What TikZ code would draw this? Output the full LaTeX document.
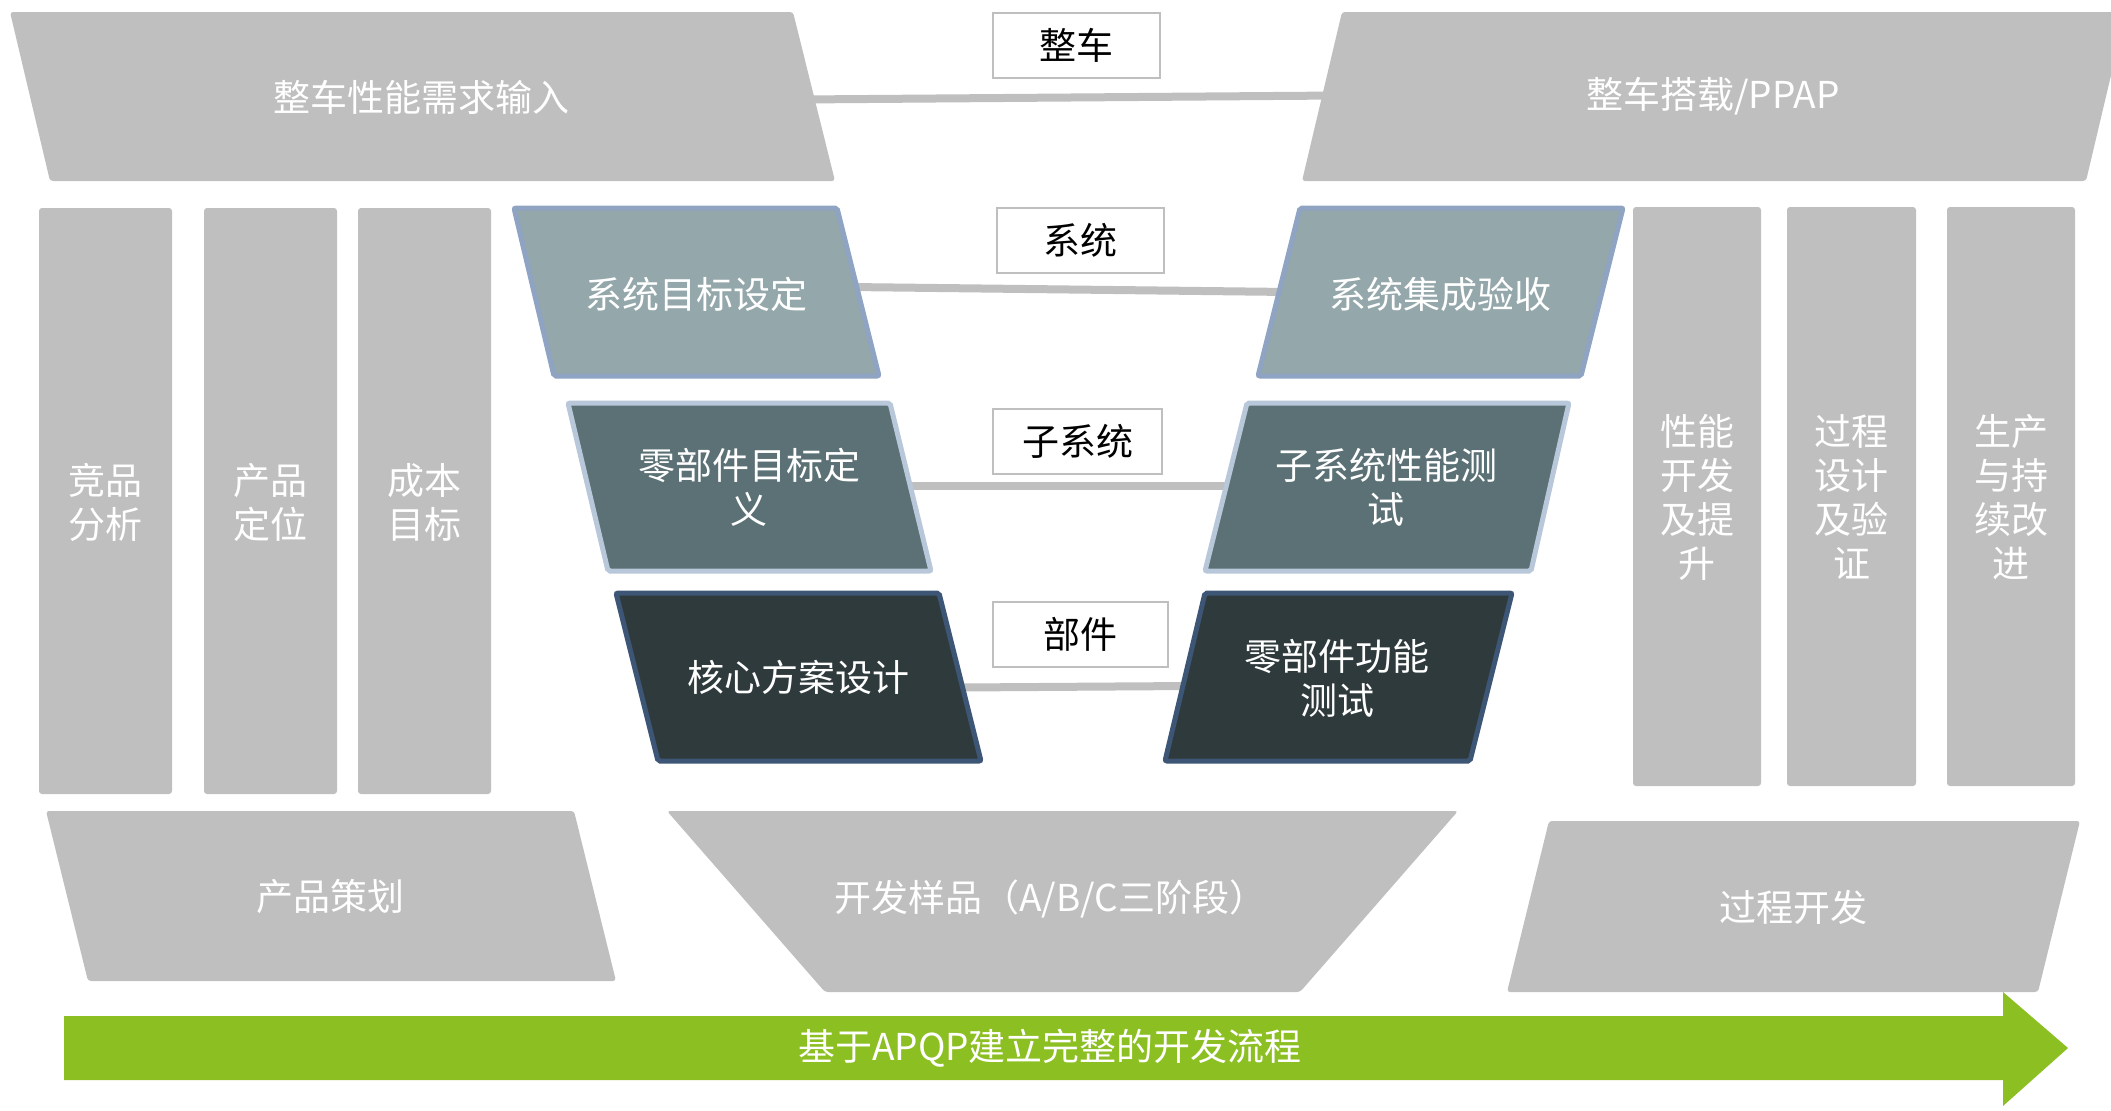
\documentclass[tikz,border=0pt]{standalone}
\usepackage{fontspec}
\setmainfont{Noto Sans CJK SC}
\newfontfamily\cjk{Noto Sans CJK SC}
\definecolor{cgray}{HTML}{BFBFBF}
\definecolor{sysfill}{HTML}{94A7AA}
\definecolor{sysdraw}{HTML}{8FA3C2}
\definecolor{subfill}{HTML}{5B7175}
\definecolor{subdraw}{HTML}{B8C7D9}
\definecolor{corefill}{HTML}{2F3A3C}
\definecolor{coredraw}{HTML}{3E5675}
\definecolor{cgreen}{HTML}{8CBF22}
\begin{document}
\begin{tikzpicture}[x=0.5pt,y=-0.5pt,
  txtfont/.style={font=\cjk\fontsize{18.5pt}{22pt}\selectfont},
  lbl/.style={txtfont,text=white,align=center,inner sep=0pt},
  greyshape/.style={fill=cgray,rounded corners=1.5pt},
  sysshape/.style={fill=sysfill,draw=sysdraw,line width=2.5pt,rounded corners=1pt},
  subshape/.style={fill=subfill,draw=subdraw,line width=2.5pt,rounded corners=1pt},
  coreshape/.style={fill=corefill,draw=coredraw,line width=2.5pt,rounded corners=1pt},
  link/.style={draw=cgray,line width=4pt},
  tagbox/.style={txtfont,text=black,draw=cgray,line width=1pt,fill=white,inner sep=0pt}]
\useasboundingbox (0,0) rectangle (2111,1110);
\clip (0,0) rectangle (2111,1110);

% connector end points (inside the shapes, drawn beneath them)
\coordinate (a1) at (800,99.5);  \coordinate (a2) at (1340,95.5);
\coordinate (b1) at (850,287);   \coordinate (b2) at (1290,292);
\coordinate (c1) at (900,486);   \coordinate (c2) at (1230,486);
\coordinate (d1) at (960,687.5); \coordinate (d2) at (1190,686);
\draw[link] (a1) -- (a2);
\draw[link] (b1) -- (b2);
\draw[link] (c1) -- (c2);
\draw[link] (d1) -- (d2);

% top parallelograms
\fill[greyshape] (10,12) -- (793,12) -- (835,181) -- (50,181) -- cycle;
\node[lbl] (vin) at (421,97) {整车性能需求输入};
\fill[greyshape] (1342,12) -- (2126,12) -- (2086,181) -- (1302,181) -- cycle;
\node[lbl] (vout) at (1713,96) {整车搭载/PPAP};

% level tags
\node[tagbox,minimum width=83.5pt,minimum height=32.5pt] (t1) at (1076.5,45.5) {整车};
\node[tagbox,minimum width=83.5pt,minimum height=32.5pt] (t2) at (1080.5,240.5) {系统};
\node[tagbox,minimum width=84.5pt,minimum height=32.5pt] (t3) at (1077.5,441.5) {子系统};
\node[tagbox,minimum width=87.5pt,minimum height=32.5pt] (t4) at (1080.5,634.5) {部件};

% left columns
\fill[greyshape] (39,208) rectangle (172,794);
\fill[greyshape] (204,208) rectangle (337,794);
\fill[greyshape] (358,208) rectangle (491,794);
\node[lbl] (lc1) at (105.5,502) {竞品\\分析};
\node[lbl] (lc2) at (270.5,502) {产品\\定位};
\node[lbl] (lc3) at (424.5,502) {成本\\目标};

% right columns
\fill[greyshape] (1633,207) rectangle (1761,786);
\fill[greyshape] (1787,207) rectangle (1916,786);
\fill[greyshape] (1947,207) rectangle (2075,786);
\node[lbl] (rc1) at (1697,497) {性能\\开发\\及提\\升};
\node[lbl] (rc2) at (1851.5,497) {过程\\设计\\及验\\证};
\node[lbl] (rc3) at (2011,497) {生产\\与持\\续改\\进};

% system level
\filldraw[sysshape] (514,208) -- (837,208) -- (879,376) -- (554,376) -- cycle;
\node[lbl] (sysL) at (696,294) {系统目标设定};
\filldraw[sysshape] (1300,208) -- (1623,208) -- (1581,376) -- (1258,376) -- cycle;
\node[lbl] (sysR) at (1440,294) {系统集成验收};

% subsystem level
\filldraw[subshape] (568,403) -- (890,403) -- (931,571) -- (608,571) -- cycle;
\node[lbl] (subL) at (749,487) {零部件目标定\\义};
\filldraw[subshape] (1247,403) -- (1569,403) -- (1531,571) -- (1205,571) -- cycle;
\node[lbl] (subR) at (1386,487) {子系统性能测\\试};

% part level
\filldraw[coreshape] (616,593) -- (939,593) -- (981,761) -- (658,761) -- cycle;
\node[lbl] (coreL) at (798,677) {核心方案设计};
\filldraw[coreshape] (1205,593) -- (1512,593) -- (1470,761) -- (1165,761) -- cycle;
\node[lbl] (coreR) at (1337,678) {零部件功能\\测试};

% bottom shapes
\fill[greyshape] (46,811) -- (574,811) -- (616,981) -- (88,981) -- cycle;
\node[lbl] (plan) at (330,896) {产品策划};
\fill[greyshape] (667,811) -- (1458,811) -- (1300,992) -- (825,992) -- cycle;
\node[lbl] (proto) at (1050,899) {开发样品（A/B/C三阶段）};
\fill[greyshape] (1549,821) -- (2080,821) -- (2038,992) -- (1507,992) -- cycle;
\node[lbl] (proc) at (1793,907) {过程开发};

% green arrow
\fill[cgreen] (64,1016) -- (2003,1016) -- (2003,992) -- (2068,1048) -- (2003,1106) -- (2003,1080) -- (64,1080) -- cycle;
\node[lbl] (flow) at (1050,1048) {基于APQP建立完整的开发流程};
\end{tikzpicture}
\end{document}
